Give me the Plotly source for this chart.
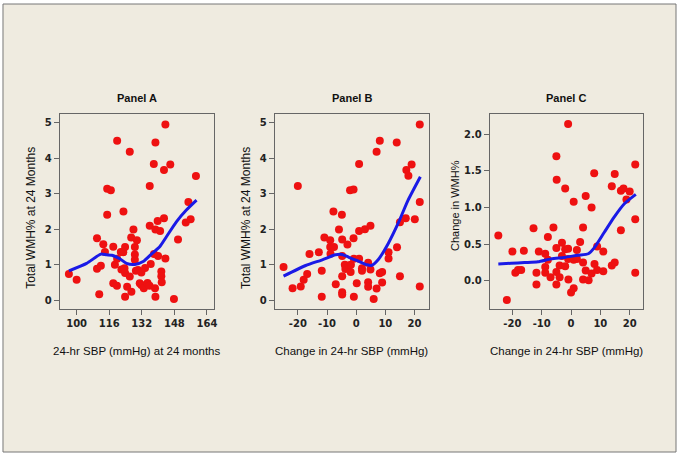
import plotly.graph_objects as go

W, H = 682, 457

# Panel A: 24-hr SBP at 24 months vs total WMH% at 24 months
a_sbp = [96.2, 100, 110, 110, 111.1, 111.9, 113.1, 113.9, 115.0, 115.0, 116.8, 118.0, 118.0, 118.8,
         119.8, 119.9, 119.9, 121.7, 123.0, 122.9, 123.8, 122.0, 123.5, 123.8, 123.8, 124.8, 126.1,
         126.1, 126.9, 126.8, 127.9, 128.6, 128.6, 128.6, 129.6, 129.1, 130.2, 131.0, 131.8, 131.8,
         133.0, 133.6, 134.8, 135.8, 136.4, 135.9, 135.9, 137.9, 138.7, 138.7, 138.5, 138.7, 138.0,
         139.8, 140.0, 141.0, 141.6, 141.6, 141.8, 142.9, 142.9, 143.6, 143.6, 146.0, 147.8, 149.8,
         153.6, 154.9, 156.0, 158.6]
a_wmh = [0.74, 0.58, 1.75, 0.89, 0.17, 0.97, 1.58, 1.36, 2.41, 3.14, 3.10, 1.51, 0.48, 1.00,
         0.41, 4.49, 1.17, 1.36, 2.50, 1.35, 1.50, 0.87, 0.90, 0.77, 0.10, 0.38, 0.67,
         4.18, 0.24, 1.77, 1.99, 1.50, 1.29, 1.14, 1.69, 0.83, 0.85, 0.48, 0.78, 0.43,
         0.34, 0.91, 0.49, 0.41, 1.02, 2.10, 3.22, 3.84, 4.44, 1.99, 0.34, 0.10, 1.30,
         2.23, 1.25, 1.95, 0.81, 0.68, 0.51, 3.67, 2.31, 4.95, 1.18, 3.82, 0.04, 1.71,
         2.19, 2.77, 2.28, 3.50]
a_fit_x = [96.2, 104.9, 111.9, 114.7, 117.3, 121.2, 124.5, 128.6, 132.7, 136.7, 140.8, 144.1, 149.0, 153.9, 158.9]
a_fit_y = [0.83, 1.04, 1.30, 1.28, 1.27, 1.17, 1.04, 1.01, 1.09, 1.30, 1.51, 1.79, 2.21, 2.54, 2.82]

# Panel B: change in 24-hr SBP vs total WMH% at 24 months
b_dsbp = [-24.9, -21.8, -20.0, -19.0, -18.0, -16.8, -16.0, -12.8, -11.8, -11.8, -10.9, -8.9, -8.9,
          -8.8, -7.6, -7.8, -7.0, -5.9, -4.9, -4.8, -4.8, -4.8, -4.8, -4.8, -3.9, -3.7, -3.0,
          -2.5, -2.1, -1.9, -1.8, -0.9, -0.9, -0.8, -0.8, 0.2, 1.0, 1.0, 1.0, 2.0, 2.0, 3.0,
          4.1, 4.1, 4.1, 4.9, 4.9, 6.0, 7.0, 7.0, 8.1, 8.1, 8.9, 8.9, 11.1, 11.1, 13.9, 14.0,
          15.0, 15.0, 17.0, 17.2, 17.9, 19.0, 20.1, 21.8, 21.8, 21.8]
b_wmh = [0.94, 0.34, 3.22, 0.39, 0.58, 0.74, 1.30, 1.35, 0.83, 0.10, 1.77, 1.69, 1.50,
         1.31, 1.50, 2.50, 0.45, 1.99, 2.41, 1.71, 1.25, 0.68, 0.23, 0.16, 1.00, 0.88, 1.57,
         0.98, 3.10, 0.80, 1.00, 3.12, 1.75, 1.17, 0.10, 0.48, 3.84, 1.95, 1.17, 0.90, 0.83, 2.00,
         1.06, 0.51, 0.38, 2.10, 0.87, 0.04, 4.18, 0.33, 4.49, 0.76, 0.80, 0.50, 1.35, 1.18, 4.44, 1.49,
         2.20, 0.68, 2.31, 3.67, 3.51, 3.82, 2.28, 4.95, 2.77, 0.39]
b_fit_x = [-24.9, -17.3, -11.6, -7.1, -4.8, -2.5, 0.8, 3.7, 5.2, 7.6, 11.0, 14.4, 17.8, 22.0]
b_fit_y = [0.68, 0.98, 1.14, 1.28, 1.29, 1.21, 1.10, 1.00, 0.98, 1.15, 1.60, 2.17, 2.82, 3.48]

# Panel C: change in 24-hr SBP vs change in WMH%
c_dsbp = [-24.8, -21.9, -20.0, -19.0, -18.1, -17.0, -16.1, -12.8, -11.8, -11.8, -11.0, -8.8, -8.8,
          -8.8, -7.9, -7.9, -7.0, -6.0, -5.0, -4.9, -5.0, -5.0, -5.0, -3.9, -3.9, -3.1, -3.1,
          -2.0, -2.0, -2.0, -1.0, -1.0, -1.0, -0.9, 0.0, 0.9, 0.9, 0.9, 2.0, 2.0, 3.1, 4.1,
          4.1, 4.1, 5.0, 5.0, 6.0, 7.0, 7.0, 7.9, 8.0, 8.9, 8.9, 11.0, 11.0, 13.9, 13.9, 14.9,
          14.9, 17.0, 17.0, 17.9, 18.9, 20.0, 21.9, 21.9, 21.9]
c_dwmh = [0.62, -0.26, 0.40, 0.11, 0.15, 0.15, 0.41, 0.72, 0.11, -0.05, 0.40, 0.37, 0.19,
          0.11, 0.60, 0.29, 0.05, 0.73, 1.70, 1.38, 0.45, 0.12, -0.05, 0.21, 0.05, 0.52, 0.34,
          1.26, 0.20, 0.43, 2.14, 0.44, 0.30, 0.02, -0.16, 1.08, -0.10, 0.29, 0.30, 0.42, 0.53, 0.73,
          0.25, 0.02, 1.16, 0.14, 0.01, 1.00, 0.10, 1.47, 0.23, 0.47, 0.15, 0.40, 0.13, 1.29, 0.21, 1.46,
          0.25, 1.23, 0.69, 1.26, 1.11, 1.22, 1.59, 0.84, 0.11]
c_fit_x = [-24.8, -20.4, -15.9, -11.3, -6.8, -2.3, 2.3, 5.9, 7.9, 11.3, 14.7, 18.1, 22.1]
c_fit_y = [0.23, 0.24, 0.25, 0.26, 0.30, 0.32, 0.35, 0.37, 0.45, 0.66, 0.87, 1.05, 1.18]

# tick labels
sbp_ticks = [100, 116, 132, 148, 164]
delta_ticks = [-20, -10, 0, 10, 20]
delta_labels = ["-20", "-10", "0", "10", "20"]
wmh_ticks = [0, 1, 2, 3, 4, 5]
dwmh_ticks = [0, 0.5, 1, 1.5, 2]
dwmh_labels = ["0.0", "0.5", "1.0", "1.5", "2.0"]

panels = [
    dict(title="Panel A", x=a_sbp, y=a_wmh, fx=a_fit_x, fy=a_fit_y,
         xtitle="24-hr SBP (mmHg) at 24 months", ytitle="Total WMH% at 24 Months",
         px=(60, 215), xr=[91.7, 167.5], yr=[-0.245, 5.245],
         xt=sbp_ticks, xl=[str(v) for v in sbp_ticks],
         yt=wmh_ticks, yl=[str(v) for v in wmh_ticks], yts=(31, 218, 12)),
    dict(title="Panel B", x=b_dsbp, y=b_wmh, fx=b_fit_x, fy=b_fit_y,
         xtitle="Change in 24-hr SBP (mmHg)", ytitle="Total WMH% at 24 Months",
         px=(276, 431), xr=[-27.9, 25.0], yr=[-0.245, 5.245],
         xt=delta_ticks, xl=delta_labels,
         yt=wmh_ticks, yl=[str(v) for v in wmh_ticks], yts=(247, 218, 12)),
    dict(title="Panel C", x=c_dsbp, y=c_dwmh, fx=c_fit_x, fy=c_fit_y,
         xtitle="Change in 24-hr SBP (mmHg)", ytitle="Change in WMH%",
         px=(492, 646), xr=[-27.7, 24.6], yr=[-0.384, 2.278],
         xt=delta_ticks, xl=delta_labels,
         yt=dwmh_ticks, yl=dwmh_labels, yts=(457, 205, 11)),
]

top, bottom = 114, 309
ydom = [1 - bottom / H, 1 - top / H]

fig = go.Figure()
layout = dict(width=W, height=H, margin=dict(l=0, r=0, t=0, b=0),
              paper_bgcolor="white", plot_bgcolor="white", showlegend=False)

tickfont = dict(family="DejaVu Sans", size=10, color="#222222", weight="bold")
annotations = []
for i, p in enumerate(panels):
    n = "" if i == 0 else str(i + 1)
    xa, ya = "x" + n, "y" + n
    fig.add_trace(go.Scatter(x=p["x"], y=p["y"], mode="markers", xaxis=xa, yaxis=ya,
                             marker=dict(color="#EE1111", size=8, line=dict(width=0))))
    fig.add_trace(go.Scatter(x=p["fx"], y=p["fy"], mode="lines", xaxis=xa, yaxis=ya,
                             line=dict(color="#1A1AE6", width=3, shape="spline", smoothing=0.6)))
    common = dict(showgrid=False, zeroline=False, showline=True, mirror=True,
                  linecolor="#666666", linewidth=1, ticks="outside", ticklen=5,
                  tickcolor="#666666", tickfont=tickfont)
    layout["xaxis" + n] = dict(domain=[p["px"][0] / W, p["px"][1] / W], range=p["xr"],
                               tickvals=p["xt"], ticktext=p["xl"], anchor=ya, **common)
    layout["yaxis" + n] = dict(domain=ydom, range=p["yr"], tickvals=p["yt"],
                               ticktext=p["yl"], anchor=xa, **common)
    cx = (p["px"][0] + p["px"][1]) / 2 / W
    annotations.append(dict(text="<b>" + p["title"] + "</b>", x=cx, y=1 - 98 / H,
                            xref="paper", yref="paper", showarrow=False,
                            xanchor="center", yanchor="middle",
                            font=dict(family="Liberation Sans", size=11, color="#111111")))
    annotations.append(dict(text=p["xtitle"], x=cx, y=1 - 351 / H,
                            xref="paper", yref="paper", showarrow=False,
                            xanchor="center", yanchor="middle",
                            font=dict(family="Liberation Sans", size=11.5, color="#111111")))
    ytx, yty, yfs = p["yts"]
    annotations.append(dict(text=p["ytitle"], x=ytx / W, y=1 - yty / H, textangle=-90,
                            xref="paper", yref="paper", showarrow=False,
                            xanchor="center", yanchor="middle",
                            font=dict(family="Liberation Sans", size=yfs, color="#111111")))

layout["annotations"] = annotations
layout["shapes"] = [dict(type="rect", xref="paper", yref="paper", layer="below",
                         x0=3 / W, x1=679 / W, y0=1 - 452 / H, y1=1 - 4 / H,
                         fillcolor="#EFEBE0", line=dict(color="#777777", width=1))]
fig.update_layout(**layout)

fig.write_html("out.html", config={"displayModeBar": False},
               post_script="document.body.style.margin='0px';")
